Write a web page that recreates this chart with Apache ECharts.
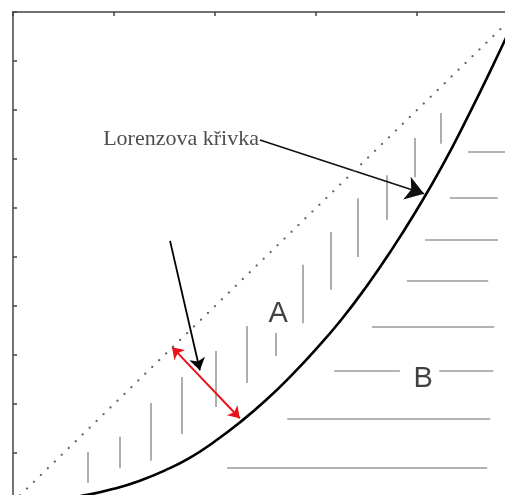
<!DOCTYPE html>
<html>
<head>
<meta charset="utf-8">
<script src="https://cdn.jsdelivr.net/npm/echarts@6/dist/echarts.min.js"></script>
<style>html,body{margin:0;padding:0;background:#fff}#c{width:505px;height:495px}</style>
</head>
<body>
<div id="c"></div>
<script>
// Lorenz curve (share of population -> share of income)
const curveX = [0, 0.05, 0.10, 0.15, 0.20, 0.25, 0.30, 0.35, 0.40, 0.45, 0.50, 0.55, 0.60, 0.65, 0.70, 0.75, 0.80, 0.85, 0.90, 0.95, 1.00];
const curveY = [0, 0.002, 0.007, 0.015, 0.027, 0.043, 0.064, 0.090, 0.124, 0.163, 0.207, 0.257, 0.312, 0.372, 0.440, 0.515, 0.597, 0.686, 0.785, 0.890, 1.00];
// line of perfect equality
const diagX = [0, 1];
const diagY = [0, 1];
// vertical hatching in area A: [x, yFrom, yTo]
const hatchA = [
  [0.149, 0.039, 0.102], [0.212, 0.069, 0.133], [0.273, 0.084, 0.202],
  [0.335, 0.139, 0.255], [0.402, 0.194, 0.308], [0.463, 0.243, 0.359],
  [0.521, 0.298, 0.345], [0.574, 0.365, 0.484], [0.630, 0.433, 0.551],
  [0.683, 0.500, 0.620], [0.741, 0.576, 0.667], [0.796, 0.663, 0.743],
  [0.848, 0.731, 0.794]
];
// horizontal hatching in area B: [y, xFrom, xTo]
const hatchB = [
  [0.714, 0.901, 0.985], [0.620, 0.865, 0.960], [0.535, 0.816, 0.960],
  [0.451, 0.780, 0.941], [0.357, 0.711, 0.953], [0.267, 0.636, 0.766],
  [0.267, 0.844, 0.951], [0.169, 0.543, 0.945], [0.069, 0.424, 0.939]
];
// annotations
const lorenzArrow = [[0.489, 0.739], [0.814, 0.629]];
const blackArrow = [[0.311, 0.533], [0.370, 0.269]];
const redArrow = [[0.315, 0.316], [0.449, 0.171]];
const lorenzText = {name: 'Lorenzova křivka', x: 0.487, y: 0.741};
const areaLabels = [{name: 'A', x: 0.525, y: 0.384}, {name: 'B', x: 0.812, y: 0.251}];
const xTickInterval = 0.2;
const yTickInterval = 0.1;

const chart = echarts.init(document.getElementById('c'), null, {renderer: 'canvas'});
const axisCommon = {
  type: 'value', min: 0, max: 1,
  axisLine: {show: true, onZero: false, lineStyle: {color: '#444', width: 1.5}},
  axisTick: {show: true, inside: true, length: 4, lineStyle: {color: '#444', width: 1.5}},
  axisLabel: {show: false},
  splitLine: {show: false}
};
chart.setOption({
  animation: false,
  backgroundColor: '#fff',
  grid: {left: 13, top: 12, width: 505, height: 490, containLabel: false, outerBoundsMode: 'none'},
  xAxis: Object.assign({}, axisCommon, {position: 'top', interval: xTickInterval}),
  yAxis: Object.assign({}, axisCommon, {position: 'left', interval: yTickInterval}),
  series: [
    {
      type: 'lines', coordinateSystem: 'cartesian2d', silent: true,
      lineStyle: {color: '#9a9a9a', width: 1.6, opacity: 1},
      data: hatchA.map(h => ({coords: [[h[0], h[1]], [h[0], h[2]]]}))
        .concat(hatchB.map(h => ({coords: [[h[1], h[0]], [h[2], h[0]]]})))
    },
    {
      type: 'line', showSymbol: false, silent: true,
      data: diagX.map((x, i) => [x, diagY[i]]),
      lineStyle: {color: '#666', width: 2.2, type: [0.1, 9.6], cap: 'round'}
    },
    {
      type: 'line', showSymbol: false, smooth: true, silent: true,
      data: curveX.map((x, i) => [x, curveY[i]]),
      lineStyle: {color: '#000', width: 2.6}
    },
    {
      type: 'lines', coordinateSystem: 'cartesian2d', silent: true,
      symbol: ['none', 'arrow'], symbolSize: 18,
      lineStyle: {color: '#111', width: 1.6, opacity: 1},
      data: [{coords: lorenzArrow}]
    },
    {
      type: 'lines', coordinateSystem: 'cartesian2d', silent: true,
      symbol: ['none', 'arrow'], symbolSize: 12,
      lineStyle: {color: '#000', width: 1.8, opacity: 1},
      data: [{coords: blackArrow}]
    },
    {
      type: 'lines', coordinateSystem: 'cartesian2d', silent: true,
      symbol: ['arrow', 'arrow'], symbolSize: 11,
      lineStyle: {color: '#e8141b', width: 2, opacity: 1},
      data: [{coords: redArrow}]
    },
    {
      type: 'scatter', symbolSize: 0, silent: true,
      data: [{name: lorenzText.name, value: [lorenzText.x, lorenzText.y]}],
      label: {show: true, position: 'left', distance: 0, formatter: '{b}',
        fontFamily: 'Liberation Serif', fontSize: 22, color: '#222'}
    },
    {
      type: 'scatter', symbolSize: 0, silent: true,
      data: areaLabels.map(l => ({name: l.name, value: [l.x, l.y]})),
      label: {show: true, position: 'inside', formatter: '{b}',
        fontFamily: 'Liberation Sans', fontSize: 29, color: '#111'}
    }
  ]
});
</script>
</body>
</html>
